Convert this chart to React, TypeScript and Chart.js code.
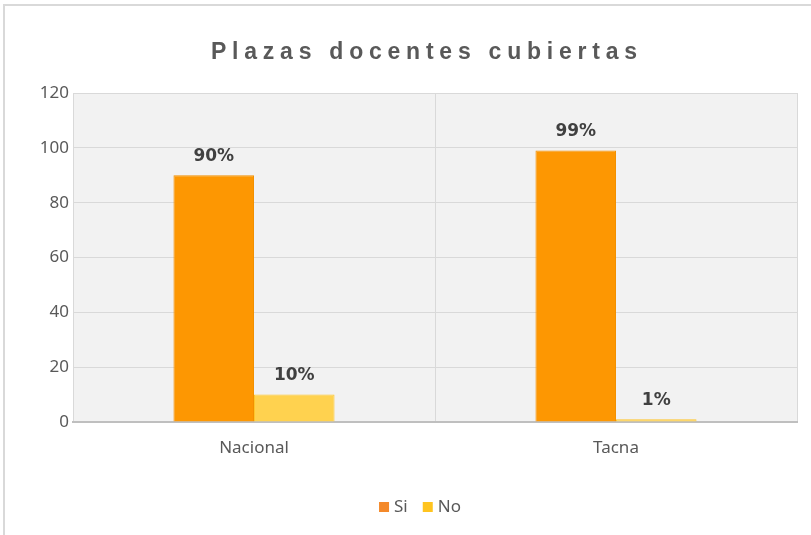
import React, { useEffect, useRef } from 'react';
import { Chart, registerables } from 'chart.js';

Chart.register(...registerables);

const TITLE = 'Plazas docentes cubiertas';
const categories = ['Nacional', 'Tacna'];
const seriesNames = ['Si', 'No'];
const siValues = [90, 99];
const noValues = [10, 1];
const siLabels = ['90%', '99%'];
const noLabels = ['10%', '1%'];
const yMin = 0;
const yMax = 120;
const yStep = 20;

const SI_COLOR = '#FD9702';
const SI_EDGE = '#F39000';
const NO_COLOR = '#FFD24F';
const NO_EDGE = '#FFC52B';
const SI_LEGEND = '#F4892A';
const NO_LEGEND = '#FFC41F';
const TEXT = '#595959';
const FONT = '"Noto Sans", sans-serif';

export default function App() {
  const ref = useRef<HTMLCanvasElement | null>(null);

  useEffect(() => {
    document.body.style.margin = '0';
    const canvas = ref.current;
    if (!canvas) return;

    const decor = {
      id: 'decor',
      beforeDraw(chart: any) {
        const { ctx, chartArea } = chart;
        ctx.save();
        ctx.strokeStyle = '#d9d9d9';
        ctx.lineWidth = 2;
        ctx.beginPath();
        ctx.moveTo(4, 535);
        ctx.lineTo(4, 5);
        ctx.lineTo(811, 5);
        ctx.stroke();
        ctx.fillStyle = '#f2f2f2';
        ctx.fillRect(chartArea.left, chartArea.top, chartArea.right - chartArea.left, chartArea.bottom - chartArea.top);
        ctx.restore();
      },
      afterDraw(chart: any) {
        const { ctx } = chart;
        ctx.save();
        ctx.font = 'bold 23px "Liberation Sans", Arial, sans-serif';
        ctx.fillStyle = TEXT;
        ctx.textBaseline = 'middle';
        ctx.textAlign = 'left';
        const base = ctx.measureText(TITLE).width;
        const targetW = 426;
        const spacing = (targetW - base) / (TITLE.length - 1);
        (ctx as any).letterSpacing = spacing + 'px';
        ctx.fillText(TITLE, 424 - targetW / 2, 53);
        (ctx as any).letterSpacing = '0px';

        ctx.font = '17px ' + FONT;
        ctx.fillStyle = TEXT;
        const cy = 507;
        const items = [
          { label: seriesNames[0], color: SI_LEGEND },
          { label: seriesNames[1], color: NO_LEGEND },
        ];
        const box = 10;
        const gap = 5;
        const itemGap = 15;
        let total = 0;
        items.forEach((it, i) => {
          total += box + gap + ctx.measureText(it.label).width + (i < items.length - 1 ? itemGap : 0);
        });
        let x = 420 - total / 2;
        items.forEach((it) => {
          ctx.fillStyle = it.color;
          ctx.fillRect(x, cy - box / 2, box, box);
          x += box + gap;
          ctx.fillStyle = TEXT;
          ctx.fillText(it.label, x, cy);
          x += ctx.measureText(it.label).width + itemGap;
        });
        ctx.restore();
      },
      afterDatasetsDraw(chart: any) {
        const { ctx } = chart;
        const labelSets = [siLabels, noLabels];
        ctx.save();
        ctx.font = 'bold 17px "DejaVu Sans", sans-serif';
        ctx.fillStyle = '#404040';
        ctx.textAlign = 'center';
        ctx.textBaseline = 'middle';
        chart.data.datasets.forEach((ds: any, di: number) => {
          const meta = chart.getDatasetMeta(di);
          meta.data.forEach((bar: any, i: number) => {
            ctx.fillText(labelSets[di][i], bar.x, bar.y - 19);
          });
        });
        ctx.restore();
      },
    };

    const chart = new Chart(canvas, {
      type: 'bar',
      data: {
        labels: categories,
        datasets: [
          {
            label: seriesNames[0],
            data: siValues,
            backgroundColor: SI_COLOR,
            borderColor: SI_EDGE,
            borderWidth: 1,
            categoryPercentage: 0.445,
            barPercentage: 1.0,
          },
          {
            label: seriesNames[1],
            data: noValues,
            backgroundColor: NO_COLOR,
            borderColor: NO_EDGE,
            borderWidth: 1,
            categoryPercentage: 0.445,
            barPercentage: 1.0,
          },
        ],
      },
      options: {
        responsive: false,
        animation: false,
        layout: { padding: { top: 93, right: 14, bottom: 0, left: 0 } },
        plugins: {
          legend: { display: false },
          title: { display: false },
          tooltip: { enabled: false },
        },
        scales: {
          x: {
            grid: { color: '#d9d9d9', drawTicks: false, offset: true },
            border: { color: '#bfbfbf', width: 2 },
            ticks: { color: TEXT, font: { family: FONT, size: 17 }, padding: 16 },
            afterFit(scale: any) { scale.height = 113; },
          },
          y: {
            min: yMin,
            max: yMax,
            grid: { color: '#d9d9d9', drawTicks: false },
            border: { display: false },
            ticks: { stepSize: yStep, color: TEXT, font: { family: FONT, size: 17 }, padding: 4 },
            afterFit(scale: any) { scale.width = 73; },
          },
        },
      },
      plugins: [decor],
    });

    return () => chart.destroy();
  }, []);

  return <canvas ref={ref} width={811} height={535} style={{ display: 'block' }} />;
}
